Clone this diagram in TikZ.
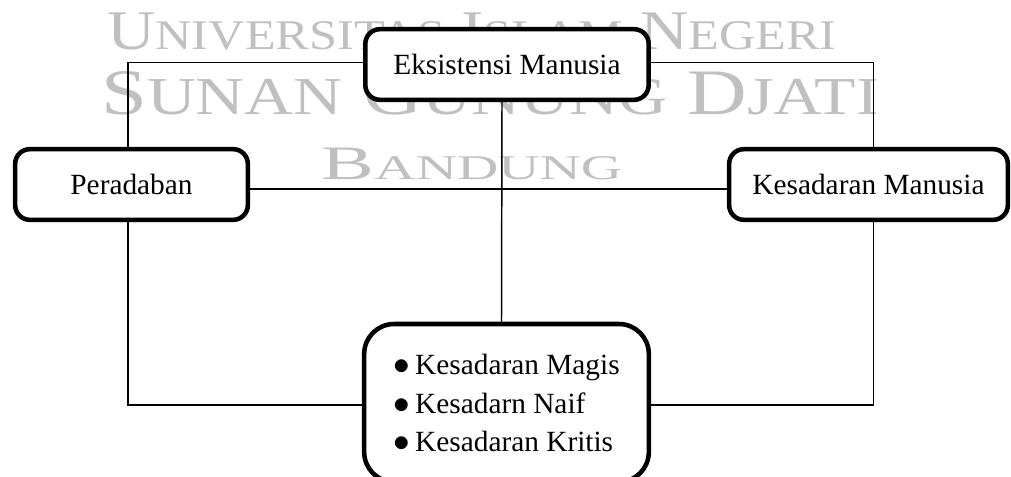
\documentclass[tikz,border=0pt]{standalone}
\usepackage{fontspec}
\setmainfont{Liberation Serif}
\definecolor{wmgray}{RGB}{192,192,192}
\newcommand{\wmword}[4]{{\fontsize{#1}{#1}\selectfont #3}{\fontsize{#2}{#2}\selectfont #4}}
\newcommand{\bigbul}{{\fontsize{27}{27}\selectfont$\bullet$}\hspace{4pt}}
\begin{document}
\begin{tikzpicture}[x=0.75pt,y=-0.75pt,
  box/.style={draw, line width=3.4pt, rounded corners=11pt, fill=white, inner sep=0pt,
    font=\fontsize{22}{26}\selectfont, minimum height=53pt},
  link/.style={line width=1.1pt},
  wm/.style={text=wmgray, inner sep=0pt, anchor=base}]
\useasboundingbox (0,0) rectangle (1011,477);
% watermark
\node[wm, xscale=1.19] (wm1) at (472,50)
  {\wmword{42}{31.7}{U}{NIVERSITAS}\hspace{10.5pt}\wmword{42}{31.7}{I}{SLAM}\hspace{10.5pt}\wmword{42}{31.7}{N}{EGERI}};
\node[wm, xscale=1.27] (wm2) at (490,115)
  {\wmword{48.7}{40}{S}{UNAN}\hspace{12pt}\wmword{48.7}{40}{G}{UNUNG}\hspace{12pt}\wmword{48.7}{40}{D}{JATI}};
\node[wm, xscale=1.65] (wm3) at (472,180)
  {\wmword{36}{26}{B}{ANDUNG}};
% boxes
\node[box, minimum width=212.5pt] (eks) at (507,64.5) {Eksistensi Manusia};
\node[box, minimum width=174.5pt] (per) at (131.5,184.5) {Peradaban};
\node[box, minimum width=209pt] (km) at (868.5,184.5) {Kesadaran Manusia};
\node[box, minimum width=213.5pt, minimum height=118.5pt, rounded corners=22.5pt,
  align=left, font=\fontsize{22}{29}\selectfont] (kes) at (506.5,403)
  {\bigbul Kesadaran Magis\\\bigbul Kesadarn Naif\\\bigbul Kesadaran Kritis};
% connectors
\draw[link] ([yshift=1.5pt]eks.west) -| ([xshift=-2.6pt]per.north);
\draw[link] ([yshift=1.5pt]eks.east) -| ([xshift=3.75pt]km.north);
\draw[link] ([yshift=-3.4pt]per.east) -- ([yshift=-3.4pt]km.west);
\draw[link] ([xshift=-3.75pt]eks.south) -- ([xshift=-3.75pt]kes.north);
\draw[link] ([xshift=-2.6pt]per.south) |- ([yshift=-1.5pt]kes.west);
\draw[link] ([xshift=3.75pt]km.south) |- ([yshift=-1.5pt]kes.east);
\end{tikzpicture}
\end{document}
